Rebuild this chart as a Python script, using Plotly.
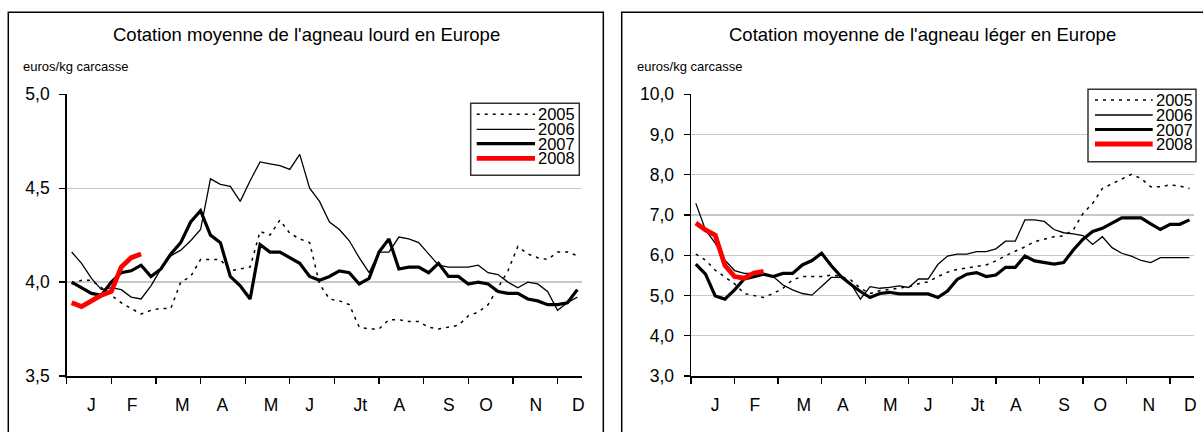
import plotly.graph_objects as go

W, H = 1203, 432

weeks = list(range(1, 53))
weeks_2008 = list(range(1, 9))

months = ["J", "F", "M", "A", "M", "J", "Jt", "A", "S", "O", "N", "D"]
month_pos = [3.0, 7.1, 12.15, 16.2, 21.1, 25.0, 30.1, 34.05, 39.05, 42.8, 47.8, 52.1]
tick_marks = [0.5, 5, 9.5, 14, 18.5, 23, 27.5, 32, 36.5, 41, 45.5, 50]

years = ["2005", "2006", "2007", "2008"]

# Agneau lourd (euros/kg carcasse)
lourd_2005 = [3.99, 4.01, 4.01, 3.97, 3.93, 3.89, 3.86, 3.83, 3.85, 3.86,
              3.86, 4.00, 4.03, 4.12, 4.12, 4.12, 4.06, 4.07, 4.08, 4.27,
              4.25, 4.33, 4.26, 4.23, 4.21, 3.99, 3.91, 3.90, 3.88, 3.76,
              3.75, 3.75, 3.80, 3.80, 3.79, 3.79, 3.76, 3.75, 3.76, 3.77,
              3.82, 3.84, 3.88, 3.97, 4.06, 4.19, 4.15, 4.13, 4.12, 4.16,
              4.16, 4.14]
lourd_2006 = [4.16, 4.10, 4.02, 3.96, 3.97, 3.96, 3.92, 3.91, 3.98, 4.07,
              4.14, 4.17, 4.22, 4.28, 4.55, 4.52, 4.51, 4.43, 4.54, 4.64,
              4.63, 4.62, 4.60, 4.68, 4.50, 4.43, 4.32, 4.28, 4.22, 4.13,
              4.05, 4.16, 4.16, 4.24, 4.23, 4.21, 4.15, 4.09, 4.08, 4.08,
              4.08, 4.09, 4.05, 4.04, 4.00, 3.97, 4.00, 3.99, 3.95, 3.85,
              3.89, 3.92]
lourd_2007 = [4.00, 3.97, 3.94, 3.93, 4.00, 4.05, 4.06, 4.09, 4.03, 4.07,
              4.15, 4.21, 4.32, 4.38, 4.25, 4.21, 4.03, 3.98, 3.91, 4.20,
              4.16, 4.16, 4.13, 4.10, 4.03, 4.01, 4.03, 4.06, 4.05, 3.99,
              4.02, 4.16, 4.23, 4.07, 4.08, 4.08, 4.05, 4.10, 4.03, 4.03,
              3.99, 4.00, 3.99, 3.95, 3.94, 3.94, 3.91, 3.90, 3.88, 3.88,
              3.89, 3.96]
lourd_2008 = [3.89, 3.87, 3.90, 3.93, 3.95, 4.08, 4.13, 4.15]

# Agneau léger (euros/kg carcasse)
leger_2005 = [6.03, 5.88, 5.63, 5.45, 5.29, 5.05, 5.00, 4.95, 5.05, 5.18,
              5.39, 5.47, 5.47, 5.47, 5.51, 5.47, 5.39, 5.18, 5.05, 5.12,
              5.15, 5.18, 5.22, 5.29, 5.34, 5.47, 5.58, 5.65, 5.68, 5.72,
              5.76, 5.86, 5.99, 6.09, 6.21, 6.34, 6.40, 6.46, 6.48, 6.63,
              7.04, 7.29, 7.66, 7.77, 7.89, 8.01, 7.91, 7.70, 7.70, 7.75,
              7.72, 7.66]
leger_2006 = [7.29, 6.63, 6.30, 5.88, 5.62, 5.55, 5.55, 5.53, 5.47, 5.26,
              5.14, 5.05, 5.01, 5.22, 5.45, 5.45, 5.30, 4.91, 5.22, 5.18,
              5.20, 5.24, 5.20, 5.41, 5.41, 5.77, 5.98, 6.03, 6.03, 6.09,
              6.09, 6.16, 6.35, 6.35, 6.88, 6.88, 6.84, 6.64, 6.56, 6.53,
              6.49, 6.27, 6.46, 6.19, 6.05, 5.98, 5.87, 5.82, 5.94, 5.94,
              5.94, 5.94]
leger_2007 = [5.78, 5.53, 4.99, 4.91, 5.14, 5.41, 5.47, 5.53, 5.47, 5.55,
              5.55, 5.76, 5.87, 6.05, 5.74, 5.47, 5.28, 5.10, 4.95, 5.05,
              5.08, 5.04, 5.04, 5.04, 5.04, 4.95, 5.11, 5.40, 5.53, 5.57,
              5.47, 5.51, 5.70, 5.70, 5.98, 5.86, 5.82, 5.78, 5.82, 6.13,
              6.40, 6.59, 6.67, 6.79, 6.93, 6.93, 6.93, 6.78, 6.64, 6.77,
              6.77, 6.88]
leger_2008 = [6.80, 6.63, 6.50, 5.75, 5.47, 5.43, 5.56, 5.60]

FONT = "Liberation Sans, Arial, sans-serif"
styles = {
    "2005": dict(color="black", width=1.5, dash="3px,5px"),
    "2006": dict(color="black", width=1.3),
    "2007": dict(color="black", width=3.2),
    "2008": dict(color="#ff0000", width=4.8),
}


def px(x):
    return x / W


def py(y):
    return 1 - y / H


fig = go.Figure()
left = [lourd_2005, lourd_2006, lourd_2007, lourd_2008]
right = [leger_2005, leger_2006, leger_2007, leger_2008]
for yr, ys in zip(years, left):
    xs = weeks_2008 if yr == "2008" else weeks
    fig.add_trace(go.Scatter(x=xs, y=ys, mode="lines", name=yr, line=styles[yr],
                             xaxis="x", yaxis="y", showlegend=False))
for yr, ys in zip(years, right):
    xs = weeks_2008 if yr == "2008" else weeks
    fig.add_trace(go.Scatter(x=xs, y=ys, mode="lines", name=yr, line=styles[yr],
                             xaxis="x2", yaxis="y2", showlegend=False))

ydom = [py(376), py(94.3)]


def xaxis(dom):
    return dict(domain=dom, range=[0.5, 52.5], showgrid=False, zeroline=False,
                showline=True, linecolor="black", linewidth=1.5,
                tickmode="array", tickvals=month_pos, ticktext=months, ticks="",
                tickfont=dict(family=FONT, size=17.5, color="black"),
                ticklabelstandoff=12,
                minor=dict(tickmode="array", tickvals=tick_marks, ticks="outside",
                           ticklen=6, tickwidth=1.3, tickcolor="black", showgrid=False),
                fixedrange=True)


def yaxis(rng, dtick):
    return dict(domain=ydom, range=rng, dtick=dtick, tick0=rng[0], tickformat=".1f",
                showgrid=True, gridcolor="#c8c8c8", gridwidth=1.3, zeroline=False,
                showline=True, linecolor="black", linewidth=1.5,
                ticks="outside", ticklen=6, tickwidth=1.3, tickcolor="black",
                tickfont=dict(family=FONT, size=17.5, color="black"),
                ticklabelstandoff=6, fixedrange=True)


shapes = []
annotations = []

# outer frames
shapes.append(dict(type="rect", xref="paper", yref="paper", x0=px(8.3), x1=px(603.3),
                   y0=-0.05, y1=py(12.3), line=dict(color="black", width=1.5), layer="below"))
shapes.append(dict(type="rect", xref="paper", yref="paper", x0=px(621.7), x1=1.05,
                   y0=-0.05, y1=py(12.3), line=dict(color="black", width=1.5), layer="below"))

titles = ["Cotation moyenne de l'agneau lourd en Europe",
          "Cotation moyenne de l'agneau léger en Europe"]
for t, cx in zip(titles, [306, 922]):
    annotations.append(dict(text=t, xref="paper", yref="paper", x=px(cx), y=py(35),
                            xanchor="center", yanchor="middle", showarrow=False,
                            font=dict(family=FONT, size=18.5, color="black")))
for ux in [20.5, 634.5]:
    annotations.append(dict(text="euros/kg carcasse", xref="paper", yref="paper",
                            x=px(ux), y=py(66.7), xanchor="left", yanchor="middle",
                            showarrow=False, font=dict(family=FONT, size=13, color="black")))

# legends (drawn boxes)
legends = [
    dict(box=(470.7, 579.3, 103.3, 175.3), line=(476.7, 535), tx=536.5,
         ys=[114.3, 129.3, 143.7, 158.3]),
    dict(box=(1088, 1196, 89.3, 161.7), line=(1095, 1152.7), tx=1154.5,
         ys=[100, 115, 129.5, 144]),
]
for lg in legends:
    x0, x1, y0, y1 = lg["box"]
    shapes.append(dict(type="rect", xref="paper", yref="paper", x0=px(x0), x1=px(x1),
                       y0=py(y1), y1=py(y0), fillcolor="white",
                       line=dict(color="#333333", width=1.5), layer="above"))
    for yr, yy in zip(years, lg["ys"]):
        st = styles[yr]
        shapes.append(dict(type="line", xref="paper", yref="paper",
                           x0=px(lg["line"][0]), x1=px(lg["line"][1]),
                           y0=py(yy), y1=py(yy), layer="above",
                           line=dict(color=st["color"], width=st["width"],
                                     dash=st.get("dash", "solid"))))
        annotations.append(dict(text=yr, xref="paper", yref="paper", x=px(lg["tx"]),
                                y=py(yy), xanchor="left", yanchor="middle",
                                showarrow=False, height=14, borderpad=0,
                                valign="middle",
                                font=dict(family=FONT, size=16.5, color="black")))

fig.update_layout(
    width=W, height=H, autosize=False, margin=dict(l=0, r=0, t=0, b=0, autoexpand=False),
    paper_bgcolor="white", plot_bgcolor="white",
    separators=", ", showlegend=False,
    font=dict(family=FONT, color="black"),
    xaxis=dict(anchor="y", **xaxis([px(66.7), px(582.3)])),
    yaxis=dict(anchor="x", **yaxis([3.5, 5.0], 0.5)),
    xaxis2=dict(anchor="y2", **xaxis([px(691), px(1194.3)])),
    yaxis2=dict(anchor="x2", **yaxis([3.0, 10.0], 1.0)),
    shapes=shapes, annotations=annotations,
)

fig.write_html(
    "out.html",
    config={"responsive": False, "displayModeBar": False, "staticPlot": True},
    post_script=(
        "document.documentElement.style.margin='0';"
        "document.documentElement.style.padding='0';"
        "document.documentElement.style.overflow='hidden';"
        "document.body.style.margin='0';"
        "document.body.style.padding='0';"
        "document.body.style.overflow='hidden';"
    ),
)
